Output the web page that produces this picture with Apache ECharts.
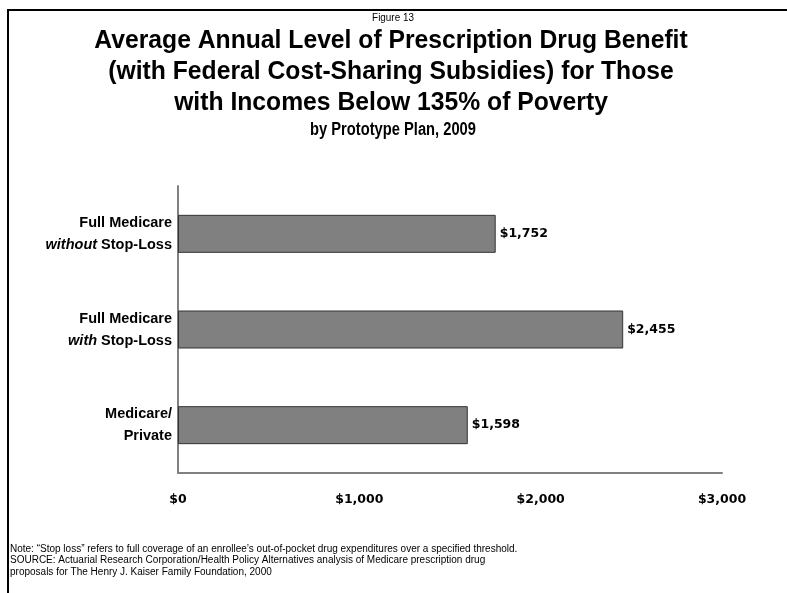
<!DOCTYPE html>
<html>
<head>
<meta charset="utf-8">
<script src="https://cdn.jsdelivr.net/npm/echarts@6/dist/echarts.min.js"></script>
<style>html,body{margin:0;padding:0;background:#fff;}#c{width:787px;height:593px;}</style>
</head>
<body>
<div id="c"></div>
<script>
const categories = ['Medicare/Private', 'Full Medicare with Stop-Loss', 'Full Medicare without Stop-Loss'];
const categoryLabels = ['{b|Medicare/}\n{b|Private}', '{b|Full Medicare}\n{i|with}{b| Stop-Loss}', '{b|Full Medicare}\n{i|without}{b| Stop-Loss}'];
const values = [1598, 2455, 1752];
const tickLabels = ['$0', '$1,000', '$2,000', '$3,000'];
const figureLabel = 'Figure 13';
const titleText = 'Average Annual Level of Prescription Drug Benefit\n(with Federal Cost-Sharing Subsidies) for Those\nwith Incomes Below 135% of Poverty';
const subtitleText = 'by Prototype Plan, 2009';
const noteLines = [
  'Note: \u201cStop loss\u201d refers to full coverage of an enrollee\u2019s out-of-pocket drug expenditures over a specified threshold.',
  'SOURCE: Actuarial Research Corporation/Health Policy Alternatives analysis of Medicare prescription drug',
  'proposals for The Henry J. Kaiser Family Foundation, 2000'
];
const sans = '"Liberation Sans", Arial, sans-serif';
const chart = echarts.init(document.getElementById('c'));
chart.setOption({
  animation: false,
  backgroundColor: '#fff',
  grid: { left: 178, right: 65, top: 186, bottom: 120 },
  xAxis: {
    type: 'value', min: 0, max: 3000, interval: 1000,
    axisLine: { show: true, lineStyle: { color: '#808080', width: 2 } },
    axisTick: { show: false },
    splitLine: { show: false },
    axisLabel: { margin: 20, fontFamily: '"DejaVu Sans", sans-serif', fontSize: 12.5, fontWeight: 'bold', color: '#000',
      formatter: (v) => tickLabels[Math.round(v / 1000)] }
  },
  yAxis: {
    type: 'category', data: categories,
    axisLine: { show: true, lineStyle: { color: '#808080', width: 2 } },
    axisTick: { show: false },
    axisLabel: { margin: 6, align: 'right',
      formatter: (v, i) => categoryLabels[i],
      rich: {
        b: { fontFamily: sans, fontSize: 14.5, fontWeight: 'bold', color: '#000', lineHeight: 22 },
        i: { fontFamily: sans, fontSize: 14.5, fontWeight: 'bold', fontStyle: 'italic', color: '#000', lineHeight: 22 }
      } }
  },
  series: [{
    type: 'bar', data: values, barWidth: 38,
    itemStyle: { color: '#808080', borderColor: '#333', borderWidth: 1 },
    label: { show: true, position: 'right', distance: 4, fontFamily: '"DejaVu Sans", sans-serif', fontSize: 12.5, fontWeight: 'bold', color: '#000',
      formatter: (p) => '$' + p.value.toLocaleString('en-US') }
  }],
  graphic: [
    { type: 'rect', shape: { x: 8, y: 10, width: 790, height: 590 }, style: { fill: 'none', stroke: '#000', lineWidth: 2 }, silent: true },
    { type: 'text', x: 393, y: 12, scaleX: 0.9, style: { text: figureLabel, align: 'center', verticalAlign: 'top', font: '11px ' + sans, fill: '#000' } },
    { type: 'text', x: 391, y: 25, scaleX: 0.95, style: { text: titleText, align: 'center', verticalAlign: 'top', font: 'bold 26px ' + sans, fill: '#000', lineHeight: 31 } },
    { type: 'text', x: 393, y: 121, scaleX: 0.84, style: { text: subtitleText, align: 'center', verticalAlign: 'top', font: 'bold 17.5px ' + sans, fill: '#000' } },
    { type: 'text', x: 10, y: 543, style: { text: noteLines.join('\n'), font: '10px ' + sans, fill: '#000', lineHeight: 11.5 } }
  ]
});
</script>
</body>
</html>
